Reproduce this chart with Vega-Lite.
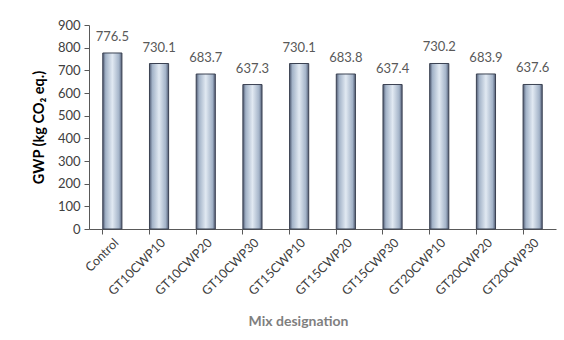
{
  "$schema": "https://vega.github.io/schema/vega-lite/v6.json",
  "width": 467,
  "height": 204,
  "autosize": "none",
  "padding": {"left": 89, "top": 25, "right": 8, "bottom": 111},
  "background": "white",
  "config": {
    "view": {"stroke": null},
    "font": "Lato",
    "axis": {"grid": false, "domainColor": "#595959", "tickColor": "#595959", "labelColor": "#404040", "labelFont": "Lato", "titleFont": "Lato"}
  },
  "data": {
    "values": [
      {"mix": "Control", "gwp": 776.5},
      {"mix": "GT10CWP10", "gwp": 730.1},
      {"mix": "GT10CWP20", "gwp": 683.7},
      {"mix": "GT10CWP30", "gwp": 637.3},
      {"mix": "GT15CWP10", "gwp": 730.1},
      {"mix": "GT15CWP20", "gwp": 683.8},
      {"mix": "GT15CWP30", "gwp": 637.4},
      {"mix": "GT20CWP10", "gwp": 730.2},
      {"mix": "GT20CWP20", "gwp": 683.9},
      {"mix": "GT20CWP30", "gwp": 637.6}
    ]
  },
  "encoding": {
    "x": {
      "field": "mix",
      "type": "nominal",
      "sort": null,
      "scale": {"paddingInner": 0.59, "paddingOuter": 0.295},
      "axis": {
        "title": "Mix designation",
        "titleColor": "#7f7f7f",
        "titleFontSize": 14,
        "titleFontWeight": "bold",
        "titleX": 209,
        "titleY": 92,
        "titleBaseline": "middle",
        "labelAngle": -45,
        "labelFontSize": 12.5,
        "labelPadding": 2,
        "tickSize": 5,
        "bandPosition": 0
      }
    },
    "y": {
      "field": "gwp",
      "type": "quantitative",
      "scale": {"domain": [0, 900]},
      "axis": {
        "title": "GWP (kg CO₂ eq.)",
        "titleColor": "#000000",
        "titleFontSize": 14.5,
        "titleFontWeight": "bold",
        "titlePadding": 11,
        "values": [0, 100, 200, 300, 400, 500, 600, 700, 800, 900],
        "labelFontSize": 13,
        "labelPadding": 4,
        "tickSize": 5
      }
    }
  },
  "layer": [
    {
      "mark": {
        "type": "bar",
        "stroke": "#3b4252",
        "strokeWidth": 1,
        "color": {
          "gradient": "linear",
          "x1": 0, "x2": 1, "y1": 0, "y2": 0,
          "stops": [
            {"offset": 0, "color": "#4f5a72"},
            {"offset": 0.15, "color": "#a3b3c8"},
            {"offset": 0.5, "color": "#e1e9f2"},
            {"offset": 0.85, "color": "#a3b3c8"},
            {"offset": 1, "color": "#4f5a72"}
          ]
        }
      }
    },
    {
      "mark": {"type": "text", "baseline": "bottom", "dy": -9, "fontSize": 13, "color": "#595959"},
      "encoding": {"text": {"field": "gwp", "type": "quantitative", "format": ".1f"}}
    }
  ]
}
